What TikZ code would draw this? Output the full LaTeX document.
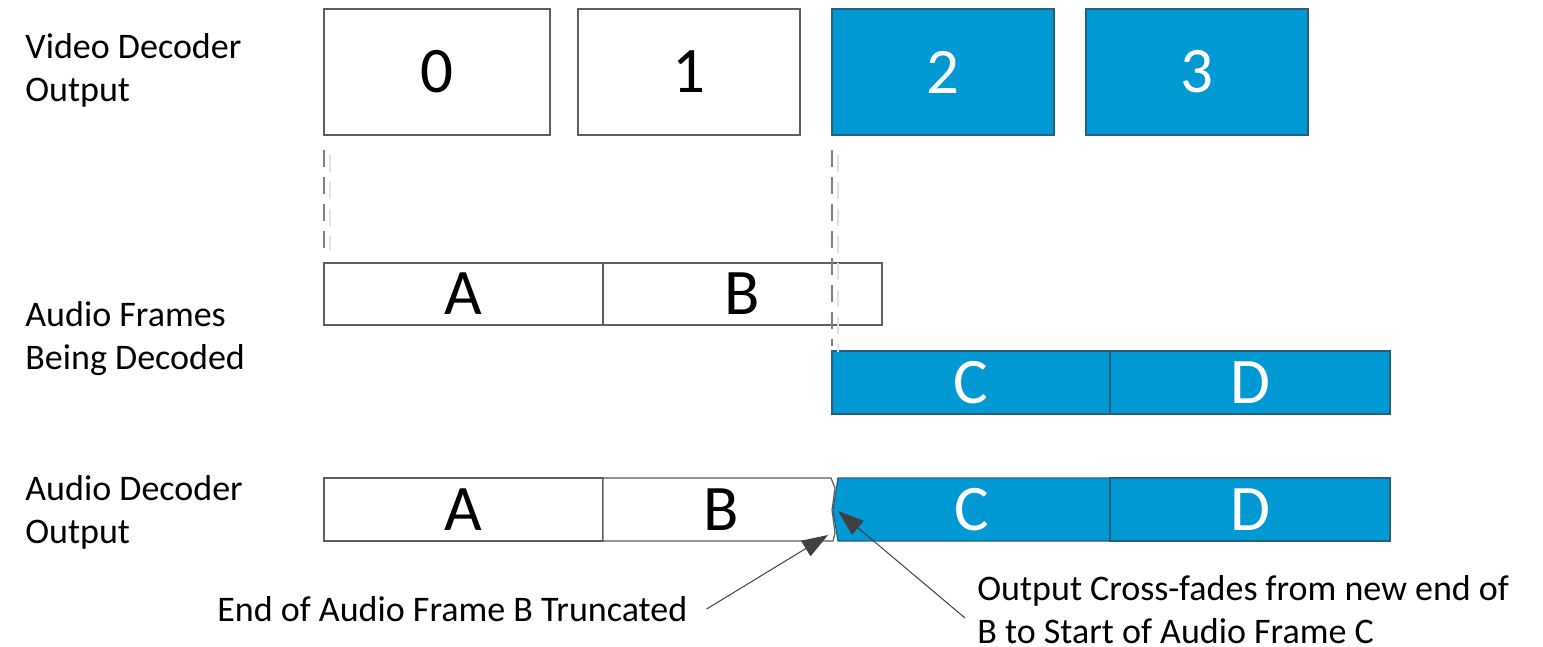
\documentclass[tikz,border=0pt]{standalone}
\usepackage{fontspec}
\setmainfont{Carlito}
\usetikzlibrary{arrows.meta}
\definecolor{fblue}{RGB}{0,153,211}
\definecolor{bedge}{RGB}{40,95,125}
\definecolor{gedge}{RGB}{95,95,95}
\definecolor{arr}{RGB}{64,64,64}
\definecolor{guidec}{RGB}{128,128,128}
\definecolor{faintc}{RGB}{225,225,225}
\begin{document}
\begin{tikzpicture}[x=0.5pt,y=-0.5pt,
  wbox/.style={draw=gedge,fill=white,line width=0.6pt,inner sep=0pt,font=\fontsize{32.5}{38}\selectfont},
  bbox/.style={draw=bedge,fill=fblue,line width=0.6pt,inner sep=0pt,text=white,font=\fontsize{32.5}{38}\selectfont},
  big/.style={inner sep=0pt,font=\fontsize{32.5}{38}\selectfont},
  lbl/.style={anchor=west,align=left,inner sep=0pt,font=\fontsize{18}{21.5}\selectfont},
  guide/.style={draw=guidec,line width=1pt,dash pattern=on 8.5pt off 5pt},
  faint/.style={draw=faintc,line width=0.6pt,dash pattern=on 8.5pt off 5pt},
  ann/.style={draw=arr,line width=0.5pt,-{Triangle[length=13pt,width=9pt]}}]
\useasboundingbox (0,0) rectangle (1543,647);
% labels
\node[lbl] (l1) at (25,70) {Video Decoder\\Output};
\node[lbl] (l2) at (25,339) {Audio Frames\\Being Decoded};
\node[lbl] (l3) at (25,512.5) {Audio Decoder\\Output};
% video boxes
\node[wbox,minimum width=113pt,minimum height=63pt] (v0) at (437,72) {0};
\node[wbox,minimum width=111pt,minimum height=63pt] (v1) at (689,72) {1};
\node[bbox,minimum width=111pt,minimum height=63pt] (v2) at (943,72) {2};
\node[bbox,minimum width=111pt,minimum height=63pt] (v3) at (1197,72) {3};
% audio frames being decoded
\node[wbox,minimum width=139.5pt,minimum height=31pt] (fa) at (463.5,294) {A};
\node[wbox,minimum width=139.5pt,minimum height=31pt] (fb) at (742.5,294) {B};
\node[bbox,minimum width=139pt,minimum height=31.5pt] (fc) at (971,382.5) {C};
\node[bbox,minimum width=140pt,minimum height=31.5pt] (fd) at (1250,382.5) {D};
% audio decoder output
\node[wbox,minimum width=139.5pt,minimum height=31.5pt] (oa) at (463.5,509.5) {A};
\filldraw[draw=gedge,fill=white,line width=0.6pt] (603,478) -- (831,478) -- (835,488) -- (832,510) -- (835,533) -- (833,541) -- (603,541) -- cycle;
\node[big] (ob) at (721,509.5) {B};
\filldraw[draw=bedge,fill=fblue,line width=0.6pt] (838,478) -- (1110,478) -- (1110,541) -- (838,541) -- (833,510) -- cycle;
\node[big,text=white] (oc) at (972,509.5) {C};
\node[bbox,minimum width=140pt,minimum height=31.5pt] (od) at (1250,509.5) {D};
% guides
\draw[faint] (330,155) -- (330,250);
\draw[faint] (838,155) -- (838,352);
\draw[guide] (324,150) -- (324,248);
\draw[guide] (832,150) -- (832,346);
% annotations
\node[lbl] (t1) at (217,609) {End of Audio Frame B Truncated};
\node[lbl] (t2) at (977,610) {Output Cross-fades from new end of\\B to Start of Audio Frame C};
\coordinate (tipB) at (828,535);
\coordinate (tipC) at (838,511);
\coordinate (t2s) at (965,618);
\draw[ann] ([xshift=9.5pt]t1.east) -- (tipB);
\draw[ann] (t2s) -- (tipC);
\end{tikzpicture}
\end{document}
